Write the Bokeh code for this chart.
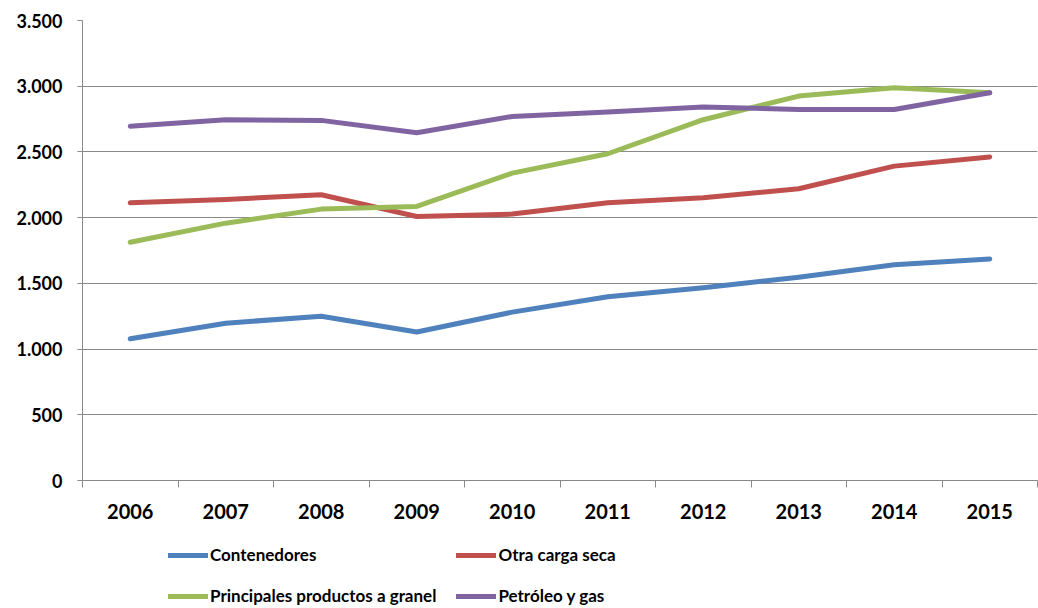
from bokeh.plotting import figure
from bokeh.layouts import column
from bokeh.models import Range1d, FixedTicker, Legend, LegendItem
from bokeh.embed import file_html
from bokeh.resources import INLINE

# ---- data ----
years = ["2006", "2007", "2008", "2009", "2010", "2011", "2012", "2013", "2014", "2015"]
contenedores = [1078, 1197, 1250, 1130, 1281, 1398, 1466, 1547, 1642, 1686]
otra_carga_seca = [2113, 2138, 2174, 2009, 2027, 2113, 2152, 2220, 2392, 2462]
principales_granel = [1813, 1958, 2065, 2085, 2339, 2486, 2745, 2925, 2988, 2950]
petroleo_gas = [2696, 2745, 2740, 2646, 2770, 2803, 2841, 2823, 2823, 2950]

series_names = ["Contenedores", "Otra carga seca", "Principales productos a granel", "Petróleo y gas"]
series_values = [contenedores, otra_carga_seca, principales_granel, petroleo_gas]
series_colors = ["#4F81BD", "#C0504D", "#9BBB59", "#8064A2"]

y_ticks = [0, 500, 1000, 1500, 2000, 2500, 3000, 3500]
y_tick_labels = ["0", "500", "1.000", "1.500", "2.000", "2.500", "3.000", "3.500"]

FONT = "Lato"
GRAY = "#898989"

x_idx = list(range(len(years)))

p = figure(
    frame_width=955, frame_height=460,
    x_range=Range1d(-0.5, len(years) - 0.5),
    y_range=Range1d(y_ticks[0], y_ticks[-1]),
    output_backend="svg", toolbar_location=None,
    min_border_left=82, min_border_top=20, min_border_right=1, min_border_bottom=50,
)
p.outline_line_color = None
p.background_fill_color = "white"
p.border_fill_color = "white"

# y axis
p.yaxis.ticker = FixedTicker(ticks=y_ticks, minor_ticks=[])
p.yaxis.major_label_overrides = {t: l for t, l in zip(y_ticks, y_tick_labels)}
p.yaxis.axis_line_color = GRAY
p.yaxis.major_tick_line_color = GRAY
p.yaxis.major_tick_out = 5
p.yaxis.major_tick_in = 0
p.yaxis.minor_tick_line_color = None
p.yaxis.major_label_text_font = FONT
p.yaxis.major_label_text_font_style = "bold"
p.yaxis.major_label_text_font_size = "18px"
p.yaxis.major_label_text_color = "black"
p.yaxis.major_label_standoff = 15

# x axis: labels at category centres, ticks at category boundaries
p.xaxis.ticker = FixedTicker(ticks=x_idx, minor_ticks=[i - 0.5 for i in x_idx] + [len(years) - 0.5])
p.xaxis.major_label_overrides = {i: y for i, y in zip(x_idx, years)}
p.xaxis.axis_line_color = GRAY
p.xaxis.major_tick_line_color = None
p.xaxis.major_tick_out = 0
p.xaxis.major_tick_in = 0
p.xaxis.minor_tick_line_color = GRAY
p.xaxis.minor_tick_out = 7
p.xaxis.minor_tick_in = 0
p.xaxis.major_label_text_font = FONT
p.xaxis.major_label_text_font_style = "bold"
p.xaxis.major_label_text_font_size = "20px"
p.xaxis.major_label_text_color = "black"
p.xaxis.major_label_standoff = 16

p.xgrid.visible = False
p.ygrid.ticker = FixedTicker(ticks=y_ticks)
p.ygrid.grid_line_color = GRAY
p.ygrid.grid_line_width = 1

line_style = dict(line_width=5, line_cap="round", line_join="round")
for vals, col in zip(series_values, series_colors):
    p.line(x_idx, vals, line_color=col, **line_style)

# ---- legend strip below the chart (same series, drawn outside its view) ----
lg = figure(
    width=1038, height=76,
    x_range=Range1d(0, 1), y_range=Range1d(-2, -1),
    output_backend="svg", toolbar_location=None,
    x_axis_location=None, y_axis_location=None,
    min_border_left=0, min_border_right=0, min_border_top=0, min_border_bottom=0,
)
lg.outline_line_color = None
lg.xgrid.visible = False
lg.ygrid.visible = False
lg.border_fill_color = "white"
lg.background_fill_color = "white"

items = []
for name, vals, col in zip(series_names, series_values, series_colors):
    r = lg.line(x_idx, vals, line_color=col, **line_style)
    items.append(LegendItem(label=name, renderers=[r]))

legend = Legend(
    items=items, ncols=2, orientation="horizontal",
    location=(86, 0),
    label_text_font=FONT, label_text_font_style="bold", label_text_font_size="17px",
    label_text_color="black",
    glyph_width=40, glyph_height=20, label_standoff=2,
    spacing=20, padding=0, margin=0,
    border_line_color=None, background_fill_alpha=0,
)
lg.add_layout(legend, "center")

layout = column(p, lg, spacing=0)
open("out.html", "w").write(file_html(layout, INLINE))
